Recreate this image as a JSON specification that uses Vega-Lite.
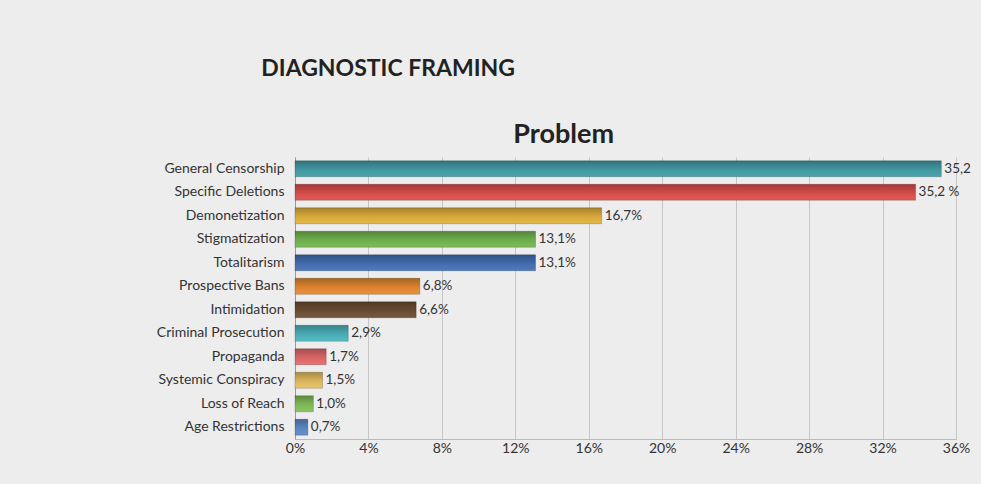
{
  "$schema": "https://vega.github.io/schema/vega-lite/v6.json",
  "background": "#ededed",
  "padding": {"left": 156, "top": 58, "right": 10, "bottom": 30},
  "title": {
    "text": "DIAGNOSTIC FRAMING",
    "anchor": "start",
    "frame": "bounds",
    "font": "Lato",
    "fontSize": 23,
    "fontWeight": "bold",
    "color": "#222222",
    "dx": 105,
    "offset": 40
  },
  "vconcat": [
    {
      "width": 661,
      "height": 282,
      "title": {
        "text": "Problem",
        "anchor": "middle",
        "frame": "bounds",
        "font": "Lato",
        "fontSize": 27,
        "fontWeight": "bold",
        "color": "#222222",
        "offset": 8
      },
      "data": {
        "values": [
          {"category": "General Censorship", "value": 35.2, "label": "35,2", "color": "#44a0aa"},
          {"category": "Specific Deletions", "value": 33.8, "label": "35,2 %", "color": "#e0504c"},
          {"category": "Demonetization", "value": 16.7, "label": "16,7%", "color": "#e3b33c"},
          {"category": "Stigmatization", "value": 13.1, "label": "13,1%", "color": "#74b850"},
          {"category": "Totalitarism", "value": 13.1, "label": "13,1%", "color": "#4472b8"},
          {"category": "Prospective Bans", "value": 6.8, "label": "6,8%", "color": "#e88a30"},
          {"category": "Intimidation", "value": 6.6, "label": "6,6%", "color": "#6e5034"},
          {"category": "Criminal Prosecution", "value": 2.9, "label": "2,9%", "color": "#4cb6c0"},
          {"category": "Propaganda", "value": 1.7, "label": "1,7%", "color": "#e66a6a"},
          {"category": "Systemic Conspiracy", "value": 1.5, "label": "1,5%", "color": "#e8c060"},
          {"category": "Loss of Reach", "value": 1.0, "label": "1,0%", "color": "#84c25a"},
          {"category": "Age Restrictions", "value": 0.7, "label": "0,7%", "color": "#5c8ccc"}
        ]
      },
      "encoding": {
        "y": {
          "field": "category",
          "type": "nominal",
          "sort": null,
          "scale": {"paddingInner": 0.32, "paddingOuter": 0.16},
          "axis": {
            "title": null,
            "ticks": false,
            "labelPadding": 11,
            "labelFont": "Lato",
            "labelFontSize": 14,
            "labelColor": "#333333",
            "domainColor": "#999999",
            "grid": false
          }
        },
        "x": {
          "field": "value",
          "type": "quantitative",
          "scale": {"domain": [0, 36], "nice": false},
          "axis": {
            "title": null,
            "values": [0, 4, 8, 12, 16, 20, 24, 28, 32, 36],
            "labelExpr": "datum.value + '%'",
            "ticks": false,
            "labelPadding": 2,
            "labelFont": "Lato",
            "labelFontSize": 14,
            "labelColor": "#333333",
            "labelFlush": false,
            "domainColor": "#bbbbbb",
            "gridColor": "#c6c6c6",
            "gridWidth": 1
          }
        }
      },
      "layer": [
        {
          "mark": {"type": "bar"},
          "encoding": {
            "color": {"field": "color", "type": "nominal", "scale": null, "legend": null}
          }
        },
        {
          "mark": {
            "type": "bar",
            "fill": {
              "gradient": "linear",
              "x1": 0, "y1": 0, "x2": 0, "y2": 1,
              "stops": [
                {"offset": 0, "color": "rgba(0,0,0,0.28)"},
                {"offset": 0.5, "color": "rgba(0,0,0,0.08)"},
                {"offset": 1, "color": "rgba(255,255,255,0.05)"}
              ]
            },
            "stroke": "#000000",
            "strokeOpacity": 0.18,
            "strokeWidth": 1
          }
        },
        {
          "mark": {
            "type": "text",
            "align": "left",
            "baseline": "middle",
            "dx": 3,
            "font": "Lato",
            "fontSize": 13.5,
            "color": "#333333"
          },
          "encoding": {
            "text": {"field": "label", "type": "nominal"}
          }
        }
      ]
    }
  ],
  "config": {
    "view": {"stroke": null}
  }
}
